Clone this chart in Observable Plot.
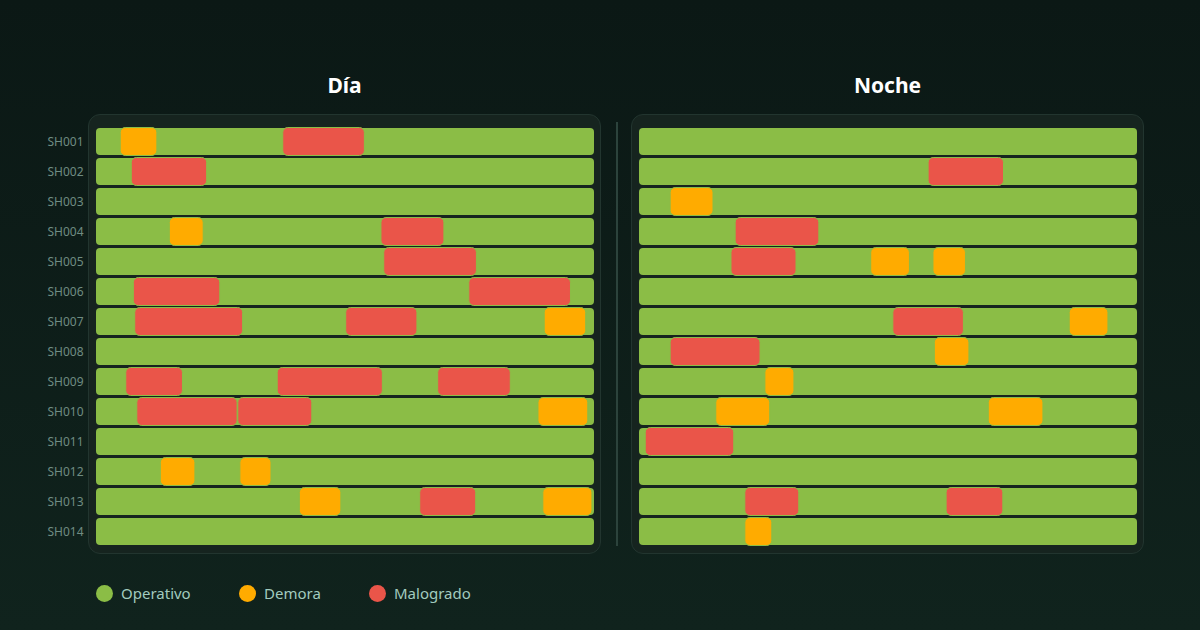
<!DOCTYPE html>
<html>
<head>
<meta charset="utf-8">
<script src="https://cdn.jsdelivr.net/npm/d3@7"></script>
<script src="https://cdn.jsdelivr.net/npm/@observablehq/plot@0.6"></script>
<style>
  html, body { margin: 0; padding: 0; }
  body {
    width: 1200px; height: 630px; overflow: hidden; position: relative;
    background: linear-gradient(180deg, #0b1815 0%, #10231d 100%);
    font-family: "Noto Sans", "Open Sans", sans-serif;
  }
  .title { position: absolute; top: 70px; width: 513px; text-align: center;
    color: #ffffff; font-weight: 700; font-size: 21px; line-height: 30px; }
  .panel { position: absolute; top: 114px; width: 511px; height: 438px;
    background: #16241f; border: 1px solid #22352f; border-radius: 12px; }
  .divider { position: absolute; left: 616px; top: 122px; width: 2px; height: 424px; background: #2c433c; }
  .plot { position: absolute; top: 114px; }
  .legend { position: absolute; top: 582px; left: 0; height: 22px; }
  .lg { position: absolute; top: 0; display: flex; align-items: center; color: #a2cbbf; font-size: 15px; line-height: 22px; white-space: nowrap; }
  .lg i { display: inline-block; width: 17px; height: 17px; border-radius: 50%; margin-right: 8px; }
</style>
</head>
<body>
<div class="title" style="left:88px">Día</div>
<div class="title" style="left:631px">Noche</div>
<div class="panel" style="left:88px"></div>
<div class="panel" style="left:631px"></div>
<div class="divider"></div>
<div id="day" class="plot" style="left:0px"></div>
<div id="night" class="plot" style="left:631px"></div>
<div class="legend" id="legend"></div>
<script>
// Unidades (filas)
const units = ["SH001","SH002","SH003","SH004","SH005","SH006","SH007","SH008","SH009","SH010","SH011","SH012","SH013","SH014"];
// Estados
const statuses = ["Operativo", "Demora", "Malogrado"];
const statusColors = ["#8bbd46", "#ffab00", "#ea5549"];
// Duración del turno (minutos)
const shiftMinutes = 720;

// Eventos Día: [unidad, inicio (min), fin (min), estado]
const dayEvents = [
  ["SH001", 35, 88, "Demora"], ["SH001", 270, 388, "Malogrado"],
  ["SH002", 51, 160, "Malogrado"],
  ["SH004", 106, 155, "Demora"], ["SH004", 412, 503, "Malogrado"],
  ["SH005", 416, 550, "Malogrado"],
  ["SH006", 54, 179, "Malogrado"], ["SH006", 539, 686, "Malogrado"],
  ["SH007", 56, 212, "Malogrado"], ["SH007", 361, 464, "Malogrado"], ["SH007", 648, 708, "Demora"],
  ["SH009", 43, 125, "Malogrado"], ["SH009", 262, 414, "Malogrado"], ["SH009", 494, 599, "Malogrado"],
  ["SH010", 59, 204, "Malogrado"], ["SH010", 205, 312, "Malogrado"], ["SH010", 639, 711, "Demora"],
  ["SH012", 93, 143, "Demora"], ["SH012", 208, 253, "Demora"],
  ["SH013", 294, 354, "Demora"], ["SH013", 468, 549, "Malogrado"], ["SH013", 646, 717, "Demora"]
];
// Eventos Noche
const nightEvents = [
  ["SH002", 418, 527, "Malogrado"],
  ["SH003", 45, 107, "Demora"],
  ["SH004", 139, 260, "Malogrado"],
  ["SH005", 133, 227, "Malogrado"], ["SH005", 335, 391, "Demora"], ["SH005", 425, 472, "Demora"],
  ["SH007", 367, 469, "Malogrado"], ["SH007", 622, 678, "Demora"],
  ["SH008", 45, 175, "Malogrado"], ["SH008", 427, 477, "Demora"],
  ["SH009", 182, 224, "Demora"],
  ["SH010", 111, 189, "Demora"], ["SH010", 505, 584, "Demora"],
  ["SH011", 9, 137, "Malogrado"],
  ["SH013", 153, 231, "Malogrado"], ["SH013", 444, 526, "Malogrado"],
  ["SH014", 153, 192, "Demora"]
];

function toRows(ev) {
  return ev.map(([unit, start, end, status]) => ({unit, start, end, status}));
}

function chart(events, showAxis, width, marginLeft) {
  const base = units.map(u => ({unit: u, start: 0, end: shiftMinutes, status: "Operativo"}));
  return Plot.plot({
    width, height: 440,
    marginLeft, marginRight: 7, marginTop: 12.5, marginBottom: 7.5,
    style: {background: "transparent", fontFamily: "Noto Sans, sans-serif"},
    x: {domain: [0, shiftMinutes], axis: null},
    y: {domain: units, paddingInner: 0.1, paddingOuter: 0.05, axis: showAxis ? "left" : null,
        tickSize: 0, tickPadding: 13, label: null},
    color: {domain: statuses, range: statusColors},
    marks: [
      Plot.barX(base, {x1: "start", x2: "end", y: "unit", fill: "status", rx: 4}),
      Plot.barX(toRows(events), {x1: "start", x2: "end", y: "unit", fill: "status", rx: 5,
        stroke: statusColors[0], strokeWidth: 1, insetTop: -0.5, insetBottom: -0.5})
    ]
  });
}

const dayPlot = chart(dayEvents, true, 601, 96);
dayPlot.querySelectorAll("[aria-label='y-axis tick label'] text, g[aria-label='y-axis tick label']").forEach(g => {
  g.setAttribute("fill", "#6f8c82"); g.setAttribute("font-size", "12");
});
document.getElementById("day").append(dayPlot);
document.getElementById("night").append(chart(nightEvents, false, 513, 8));

const legendPos = [96, 239, 369];
const lg = document.getElementById("legend");
statuses.forEach((s, i) => {
  const d = document.createElement("div");
  d.className = "lg";
  d.style.left = legendPos[i] + "px";
  d.innerHTML = `<i style="background:${statusColors[i]}"></i>${s}`;
  lg.append(d);
});
</script>
</body>
</html>
